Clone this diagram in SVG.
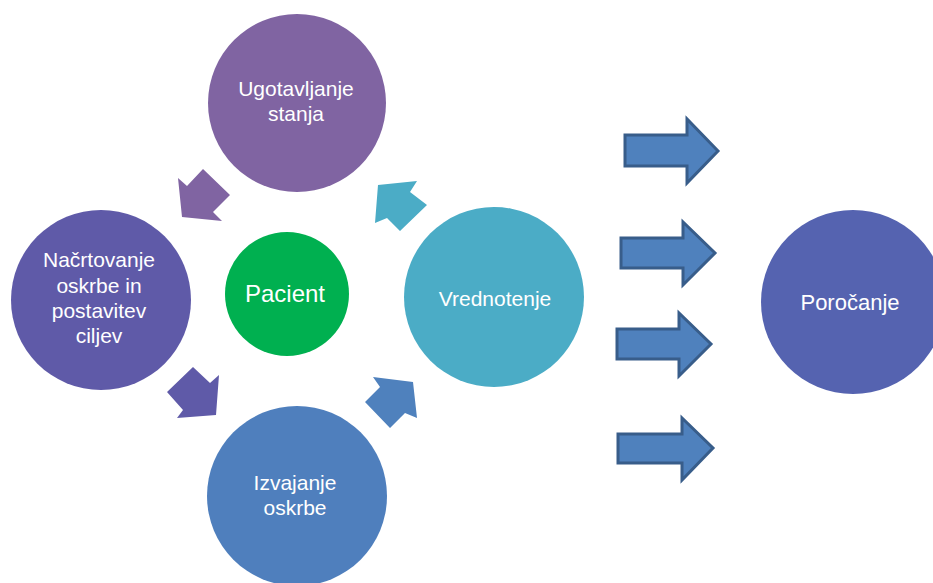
<svg xmlns="http://www.w3.org/2000/svg" width="933" height="583" viewBox="0 0 933 583">
<style>
text{font-family:"Liberation Sans",Arial,sans-serif;fill:#ffffff;text-anchor:middle;font-size:21px}
.big{font-size:24px}
.rep{font-size:22px}
.blk{fill:#4f81bd;stroke:#385d8a;stroke-width:3;stroke-linejoin:miter}
</style>
<rect width="933" height="583" fill="#ffffff"/>
<g id="connectors">
<polygon points="178,178 187,186 203,169 230,195 213,212 222,221 182,217" fill="#8064a2"/>
<polygon points="378,185 417,181 410,192 427,205 400,231 387,218 375,223" fill="#4bacc6"/>
<polygon points="219,375 216,415 177,418 183,410 167,392 193,367 210,383" fill="#5f5aa8"/>
<polygon points="413,382 417,418 405,413 390,428 365,402 380,387 373,377" fill="#4f81bd"/>
<polygon class="blk" points="625,135 687,135 687,119 718,151 687,183 687,166 625,166"/>
<polygon class="blk" points="621,238 683,238 683,222 715,253 683,285 683,268 621,268"/>
<polygon class="blk" points="617,329 679,329 679,313 711,344 679,376 679,359 617,359"/>
<polygon class="blk" points="618,434 682,434 682,418 713,448 682,480 682,463 618,463"/>
</g>
<g id="ugotavljanje">
<circle cx="297" cy="103" r="89" fill="#8064a2"/>
<text x="296" y="96">Ugotavljanje</text>
<text x="296" y="121">stanja</text>
</g>
<g id="nacrtovanje">
<circle cx="101" cy="300" r="90" fill="#5f5aa8"/>
<text x="99" y="267">Načrtovanje</text>
<text x="99" y="293">oskrbe in</text>
<text x="99" y="318">postavitev</text>
<text x="99" y="343">ciljev</text>
</g>
<g id="pacient">
<circle cx="287" cy="294" r="62" fill="#00b050"/>
<text class="big" x="285" y="302">Pacient</text>
</g>
<g id="izvajanje">
<circle cx="297" cy="496" r="90" fill="#4f7fbd"/>
<text x="295" y="490">Izvajanje</text>
<text x="295" y="515">oskrbe</text>
</g>
<g id="vrednotenje">
<circle cx="494" cy="297" r="90" fill="#4bacc6"/>
<text x="495" y="306">Vrednotenje</text>
</g>
<g id="porocanje">
<circle cx="853" cy="302" r="92" fill="#5563b0"/>
<text class="rep" x="850" y="310">Poročanje</text>
</g>
</svg>
